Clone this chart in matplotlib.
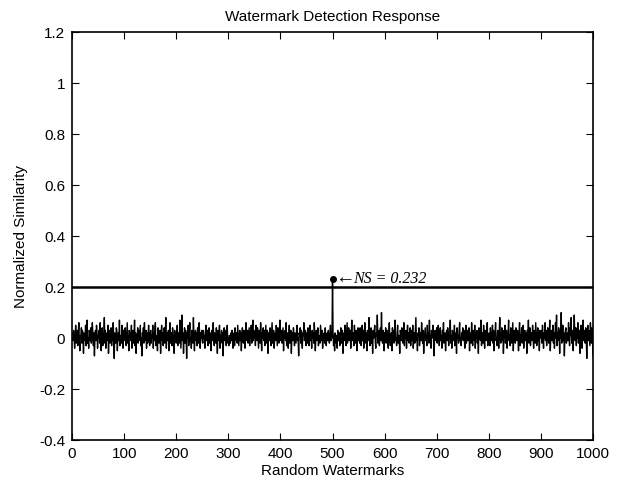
import matplotlib
matplotlib.use('Agg')
import matplotlib.pyplot as plt
import numpy as np

matplotlib.rcParams['font.family'] = ['Liberation Sans', 'DejaVu Sans']
matplotlib.rcParams['font.size'] = 11

# normalized similarity of random watermarks, in units of 0.01
noise = [
    2, -1, 3, 0, -4, 1, 5, -2, 0, 3, -3, 2, 6, -1, -5, 1, 0, 4, -2, 3, 1, -6, 2, 0, -1, 5, -3, 1, 7, -2, 0, -4, 3, 2, -1, 4, -2, 0, 6, 1, -3, 2, -7, 0, 3, -1, 5, 2, -4, 1,
    0, 3, -2, 6, -1, -5, 2, 4, -3, 0, 1, 8, -2, 3, -4, 0, 2, -1, 5, -6, 1, 3, -2, 0, 4, -3, 2, -1, 6, 0, -8, 2, 1, -2, 4, 3, -5, 0, 2, -1, 7, -3, 1, 0, -2, 5, 2, -4, 3, 1,
    -1, 4, 0, -3, 2, 6, -2, 1, -5, 3, 0, 2, -1, 5, -4, 1, 3, -2, 0, 7, -3, 2, -6, 1, 0, 4, -2, 3, -1, 2, 5, -3, 0, -7, 2, 1, 4, -2, 6, -1, 0, 3, -4, 2, -2, 1, 5, 0, -3, 2,
    3, -2, 1, 0, 5, -4, 2, -1, 3, 6, -3, 0, 1, -5, 4, 2, -2, 0, 3, -6, 1, 5, -1, 2, -3, 0, 4, -2, 1, 8, -4, 0, 2, -1, 3, -5, 1, 6, -2, 0, 2, -3, 4, 1, -1, -6, 3, 0, 2, -2,
    1, 5, -3, 2, 0, -2, 7, 1, -4, 3, 9, -1, 2, -6, 0, 4, -2, 3, 1, -8, 2, 0, 5, -3, 1, 6, -1, 0, -4, 3, 2, -2, 8, 0, -5, 1, 3, -1, 2, -3, 4, 0, -2, 6, 1, -4, 2, 0, 3, -1,
    -2, 3, 0, 1, -4, 2, 5, -1, 0, 3, -3, 1, 4, -2, 2, 0, -5, 3, 1, -1, 6, 0, -3, 2, 1, -2, 4, 0, -6, 3, 2, -1, 5, -4, 1, 0, 3, -2, 2, -7, 1, 4, -1, 0, 3, -3, 2, 5, -2, 0,
    -3, 1, 0, -2, 2, -1, 3, 0, -4, 1, 2, -3, 4, 0, -1, 2, -2, 5, 1, -3, 0, 3, -1, 2, -5, 1, 4, 0, -2, 3, 1, -4, 2, 6, -1, 0, 3, -2, 1, 4, -3, 2, 0, 5, -2, 1, 7, -1, 3, 0,
    2, -3, 5, 1, -1, 4, 0, -4, 3, 2, -2, 6, 1, -5, 2, 0, 4, -1, 3, -3, 1, 5, -2, 0, 3, -6, 2, 1, -1, 4, 0, -3, 2, 6, -2, 1, 3, -4, 0, 2, -1, 5, 1, -3, 4, 0, -2, 2, 7, -1,
    0, 3, -2, 1, 4, -5, 2, 0, 3, -1, 6, -3, 1, 2, -4, 0, 5, -2, 1, 3, -6, 0, 2, -1, 4, 1, -3, 2, 0, -2, 3, 5, -1, 0, -7, 2, 1, 4, -2, 3, 0, -4, 2, 1, 6, -1, 0, 3, -3, 2,
    1, -2, 4, 0, -3, 2, 5, -1, 1, -4, 3, 0, 2, -2, 6, 1, -5, 0, 3, -1, 2, 4, -3, 1, 0, -2, 5, 2, -1, 3, -4, 0, 1, 2, -2, 4, 0, -3, 1, 2, -1, 3, 0, -2, 1, 5, -1, 2, 0, 3,
    2, -3, 1, -5, 2, 0, -2, 1, -4, 3, 0, -1, 2, -3, 1, 4, -2, 0, 3, -6, 1, 2, -1, 5, 0, -3, 2, 6, -2, 1, 4, -1, 0, 3, -4, 2, 7, -1, 0, 2, -3, 5, 1, -2, 3, 0, -5, 2, 4, -1,
    2, -2, 4, 1, -3, 0, 5, -1, 3, -4, 1, 6, 0, -2, 2, -5, 3, 1, -1, 8, 0, -3, 2, 4, -2, 1, -6, 3, 0, 2, 5, -1, -4, 2, 1, 9, -2, 0, 3, -3, 1, 4, -1, 10, 0, -2, 3, 1, -5, 2,
    0, 4, -2, 1, 3, -1, -4, 2, 6, 0, -3, 1, 2, -5, 4, 0, 3, -2, 1, 7, -1, 0, -3, 2, 5, -2, 1, 0, -6, 3, 2, -1, 4, 0, -2, 1, 6, -3, 2, 0, 3, -4, 1, 5, -1, 2, -2, 0, 4, -3,
    1, 3, -1, 5, -4, 0, 2, -2, 3, 8, -1, 0, -5, 2, 1, 4, -3, 0, 2, -1, 6, 1, -2, 3, -6, 0, 2, 4, -1, 1, -3, 5, 0, 2, -2, 7, -1, 1, -4, 3, 0, 2, 5, -2, -7, 1, 3, 0, -1, 4,
    -2, 1, 5, 0, -3, 2, 4, -1, 1, -4, 3, 0, 6, -2, 1, 2, -5, 0, 3, -1, 4, 2, -3, 1, 0, 7, -2, 1, -4, 3, 2, -1, 0, 5, -3, 1, 2, -6, 4, 0, 1, -2, 3, 6, -1, 0, -3, 2, 1, 4,
    -1, 3, 0, -4, 2, 5, -2, 1, 3, -1, 0, 4, -5, 2, 1, -2, 6, 0, -3, 3, 1, -1, 5, -4, 2, 0, 3, -2, 1, -6, 4, 2, 0, -1, 7, -3, 1, 2, -2, 5, 0, -4, 3, 1, -1, 2, 6, -3, 0, 1,
    2, -3, 4, 1, -1, 0, 5, -2, 3, -5, 1, 2, 6, -1, 0, -3, 3, 1, -4, 2, 8, 0, -2, 1, 4, -1, 3, -6, 0, 2, 5, -2, 1, 3, -4, 0, 2, 7, -1, 1, -3, 4, 0, -2, 2, 6, -5, 1, 3, 0,
    -2, 4, 1, -1, 3, 0, -5, 2, 6, -3, 1, 0, 4, -2, 2, 5, -4, 1, 3, -1, 0, 2, -6, 3, 1, 7, -2, 0, 4, -3, 1, 2, -1, 5, 0, -4, 3, 2, -2, 6, 1, -3, 0, 4, -1, 2, -5, 3, 1, 0,
    3, -2, 5, 1, -4, 2, 0, 6, -1, 3, -3, 1, 4, 0, -2, 2, 7, -5, 1, 3, -1, 0, 5, -2, 2, -4, 1, 6, 0, 9, -3, 2, -1, 4, 1, -6, 3, 0, 10, -2, 1, 5, -1, 2, -7, 0, 3, 4, -2, 1,
    2, -1, 6, 0, -3, 4, 1, 8, -2, 3, 0, -5, 2, 9, 1, -1, 4, -3, 2, 0, 6, -2, 1, 3, -6, 0, 5, 2, -4, 1, 7, -1, 3, 0, -2, 4, 1, -8, 2, 5, -1, 3, 0, -3, 6, 1, -2, 4, 0, -7,
]
peak_x = 500
peak_value = 0.232
threshold = 0.2

yticks = [-0.4, -0.2, 0, 0.2, 0.4, 0.6, 0.8, 1, 1.2]
yticklabels = ['-0.4', '-0.2', '0', '0.2', '0.4', '0.6', '0.8', '1', '1.2']
xticks = [0, 100, 200, 300, 400, 500, 600, 700, 800, 900, 1000]

similarity = np.array(noise, dtype=float) / 100
similarity[peak_x - 1] = peak_value
x = np.arange(1, len(similarity) + 1)

fig = plt.figure(figsize=(6.22, 4.82), dpi=100)
ax = fig.add_axes([0.1158, 0.0871, 0.8376, 0.8465])

ax.plot(x, similarity, color='black', lw=1.0)
ax.plot([0, 1000], [threshold, threshold], color='black', lw=1.8)
ax.plot(peak_x, peak_value, 'o', color='black', ms=4)
ax.text(peak_x + 4, peak_value, '\u2190', fontsize=14,
        family=['Liberation Serif', 'DejaVu Serif'], va='center', ha='left')
ax.text(peak_x + 40, peak_value, 'NS = 0.232', fontsize=11.5,
        family=['Liberation Serif', 'DejaVu Serif'], style='italic',
        va='center', ha='left')

ax.set_xlim(0, 1000)
ax.set_ylim(-0.4, 1.2)
ax.set_xticks(xticks)
ax.set_yticks(yticks)
ax.set_yticklabels(yticklabels)
ax.tick_params(direction='in', top=True, right=True, length=5, width=0.8,
               labelsize=11, pad=5)
for s in ax.spines.values():
    s.set_linewidth(1.2)

ax.set_title('Watermark Detection Response', fontsize=11, pad=8)
ax.set_xlabel('Random Watermarks', fontsize=11, labelpad=2)
ax.set_ylabel('Normalized Similarity', fontsize=11, labelpad=8)

fig.savefig('out.png', dpi=100)
